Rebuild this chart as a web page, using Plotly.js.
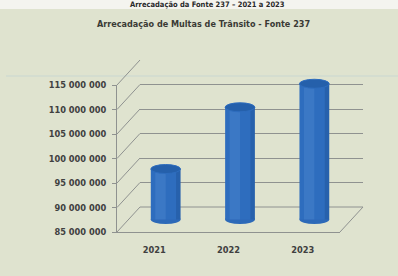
<!DOCTYPE html>
<html><head><meta charset="utf-8">
<script src="https://cdn.plot.ly/plotly-3.0.1.min.js"></script>
<style>html,body{margin:0;padding:0;background:#dfe3cf}</style>
</head><body><div id="chart" style="width:398px;height:276px"></div>
<script>
// ---- data ----
const years = ['2021', '2022', '2023'];
const revenue = [95300000, 107900000, 112700000];
const yTickVals = [85000000, 90000000, 95000000, 100000000, 105000000, 110000000, 115000000];
const yTickText = ['85 000 000', '90 000 000', '95 000 000', '100 000 000', '105 000 000', '110 000 000', '115 000 000'];
const chartTitle = 'Arrecadação de Multas de Trânsito - Fonte 237';
const pageTitle = 'Arrecadação da Fonte 237 – 2021 a 2023';

// ---- geometry (pixels) ----
const W = 398, H = 276;
const yMin = 85000000, yMax = 115000000;
const front = {x0: 117, x1: 340, yTop: 85, yBot: 232};
const dx = 23, dy = -25;           // depth offset to back wall
const px = v => v / W, py = v => 1 - v / H;
const pxPerUnit = (front.yBot - front.yTop) / (yMax - yMin);
const midExtra = 2000000;          // extra range below for bottom ellipse
const mid = {x0: front.x0 + dx/2, x1: front.x1 + dx/2, yTop: front.yTop + dy/2, yBot: front.yBot + dy/2 + midExtra * pxPerUnit};

const FONT = 'Liberation Sans Narrow, DejaVu Sans Condensed, Arial Narrow, sans-serif';
const barW = 0.40;
const ell = 4.5 / pxPerUnit;       // ellipse half-height in data units

const idx = years.map((_, i) => i);
const traces = [
  {type: 'bar', x: idx, y: revenue.map(v => v - yMin), base: yMin, width: barW,
   marker: {color: '#2e6dbe', line: {width: 0}}, xaxis: 'x3', yaxis: 'y3', hoverinfo: 'skip'},
  {type: 'bar', x: idx, y: revenue.map(v => v - yMin), base: yMin, width: 0.14, offset: -0.14,
   marker: {color: 'rgba(110,160,225,0.22)', line: {width: 0}}, xaxis: 'x3', yaxis: 'y3', hoverinfo: 'skip'},
  {type: 'bar', x: idx, y: revenue.map(v => v - yMin), base: yMin, width: 0.06, offset: 0.14,
   marker: {color: 'rgba(20,55,110,0.22)', line: {width: 0}}, xaxis: 'x3', yaxis: 'y3', hoverinfo: 'skip'},
  // invisible traces so the front and back axes exist
  {type: 'scatter', x: years, y: [yMin, yMin, yMin], mode: 'none', xaxis: 'x', yaxis: 'y', hoverinfo: 'skip', showlegend: false},
  {type: 'scatter', x: [0], y: [yMin], mode: 'none', xaxis: 'x2', yaxis: 'y2', hoverinfo: 'skip', showlegend: false}
];

const shapes = [];
// top white strip and faint photo line
shapes.push({type: 'rect', xref: 'paper', yref: 'paper', x0: 0, x1: 1, y0: py(9), y1: 1, fillcolor: '#f4f4ef', line: {width: 0}, layer: 'below'});
shapes.push({type: 'line', xref: 'paper', yref: 'paper', x0: px(6), x1: 1, y0: py(76), y1: py(76), line: {color: '#c9d7d2', width: 1.2}, layer: 'below'});
// left diagonals from front axis to back wall
yTickVals.forEach(v => {
  const yf = front.yBot - (v - yMin) * pxPerUnit;
  shapes.push({type: 'line', xref: 'paper', yref: 'paper', x0: px(front.x0), y0: py(yf), x1: px(front.x0 + dx), y1: py(yf + dy), line: {color: '#8f9290', width: 1}, layer: 'below'});
});
// floor right diagonal
shapes.push({type: 'line', xref: 'paper', yref: 'paper', x0: px(front.x1), y0: py(front.yBot), x1: px(front.x1 + dx), y1: py(front.yBot + dy), line: {color: '#8f9290', width: 1}, layer: 'below'});
// floor back edge
shapes.push({type: 'line', xref: 'paper', yref: 'paper', x0: px(front.x0 + dx), y0: py(front.yBot + dy), x1: px(front.x1 + dx), y1: py(front.yBot + dy), line: {color: '#8f9290', width: 1}, layer: 'below'});
// cylinder ellipses
revenue.forEach((v, i) => {
  shapes.push({type: 'circle', xref: 'x3', yref: 'y3', x0: i - barW/2, x1: i + barW/2, y0: yMin - ell, y1: yMin + ell,
    fillcolor: '#2c69b8', line: {width: 0}, layer: 'below'});
  shapes.push({type: 'circle', xref: 'x3', yref: 'y3', x0: i - barW/2, x1: i + barW/2, y0: v - ell, y1: v + ell,
    fillcolor: '#2560ab', line: {color: '#2e6dbe', width: 1}, layer: 'above'});
});

const tickFont = {size: 9.2, family: FONT, color: '#404040', weight: 'bold'};
const layout = {
  width: W, height: H, margin: {l: 0, r: 0, t: 0, b: 0},
  paper_bgcolor: '#dfe3cf', plot_bgcolor: 'rgba(0,0,0,0)',
  showlegend: false, barmode: 'overlay',
  font: {family: FONT, color: '#3d3d3d'},
  xaxis: {domain: [px(front.x0), px(front.x1)], anchor: 'y', type: 'category', range: [-0.5, 2.5], showgrid: false, zeroline: false,
    showline: true, linecolor: '#8f9290', linewidth: 1, ticks: '', ticklabelstandoff: 9,
    tickfont: tickFont, fixedrange: true},
  yaxis: {domain: [py(front.yBot), py(front.yTop)], anchor: 'x', range: [yMin, yMax], showgrid: false, zeroline: false,
    showline: true, linecolor: '#8f9290', linewidth: 1, ticks: 'outside', ticklen: 4, tickcolor: '#8f9290',
    tickvals: yTickVals, ticktext: yTickText, ticklabelstandoff: 4,
    tickfont: tickFont},
  xaxis2: {domain: [px(front.x0 + dx), px(front.x1 + dx)], anchor: 'y2', range: [0, 1], visible: false},
  yaxis2: {domain: [py(front.yBot + dy), py(front.yTop + dy)], anchor: 'x2', range: [yMin, yMax], showgrid: true,
    gridcolor: '#8f9290', gridwidth: 1, zeroline: false, showline: false, showticklabels: false, ticks: '', tickvals: yTickVals},
  xaxis3: {domain: [px(mid.x0), px(mid.x1)], anchor: 'y3', range: [-0.5, 2.5], visible: false},
  yaxis3: {domain: [py(mid.yBot), py(mid.yTop)], anchor: 'x3', range: [yMin - midExtra, yMax], visible: false},
  shapes: shapes,
  annotations: [
    {text: '<b>' + chartTitle + '</b>', xref: 'paper', yref: 'paper', x: px(203), y: py(24), xanchor: 'center', yanchor: 'middle',
     showarrow: false, font: {size: 9, family: FONT, color: '#3a3a35'}},
    {text: '<b>' + pageTitle + '</b>', xref: 'paper', yref: 'paper', x: px(207), y: py(4.5), xanchor: 'center', yanchor: 'middle',
     showarrow: false, font: {size: 7.5, family: FONT, color: '#2a2a2a'}}
  ]
};

Plotly.newPlot('chart', traces, layout, {displayModeBar: false, staticPlot: true});
</script></body></html>
